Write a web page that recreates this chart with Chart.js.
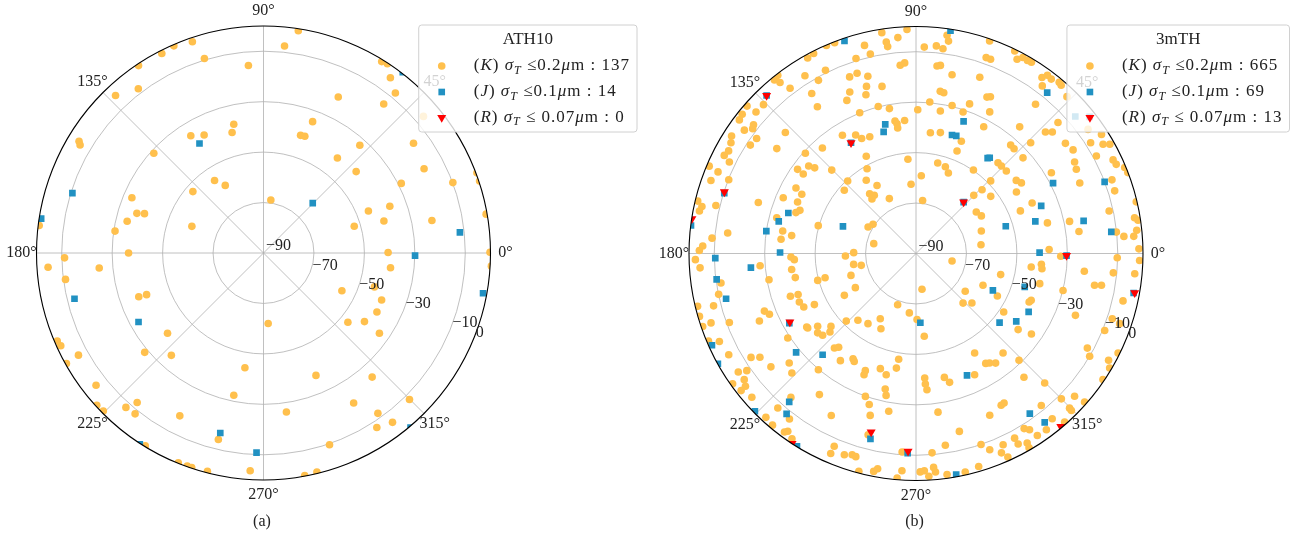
<!DOCTYPE html>
<html>
<head>
<meta charset="utf-8">
<script src="https://cdn.jsdelivr.net/npm/chart.js@4.4.0/dist/chart.umd.min.js"></script>
<style>
  html, body { margin: 0; padding: 0; background: #ffffff; }
  body { width: 1305px; height: 542px; position: relative; overflow: hidden; }
  canvas { position: absolute; top: 0; }
  #panelA { left: 0; }
  #panelB { left: 652px; }
</style>
</head>
<body>
<canvas id="panelA" width="652" height="542"></canvas>
<canvas id="panelB" width="653" height="542"></canvas>
<script>
// ---- axis definitions ----
const R_MIN = -90;
const R_MAX = 0;
const angleTicks = [0, 45, 90, 135, 180, 225, 270, 315];
const radialTicks = [-90, -70, -50, -30, -10, 0];
const gridRings = [-70, -50, -30, -10];
const radialLabelAngle = -22.5;

// ---- series definitions ----
const seriesCodes = ['K', 'J', 'R'];
const seriesLimits = ['0.2', '0.1', '0.07'];
const seriesColors = ['#FFC04D', '#2191C2', '#FF0000'];
const seriesStyles = ['circle', 'rect', 'triangle'];
const seriesRadius = [3.8, 4.7, 5.2];

const panelTitles = ['ATH10', '3mTH'];
const panelCaptions = ['(a)', '(b)'];
const athCounts = [137, 14, 0];
const mthCounts = [665, 69, 13];

// ---- ATH10 samples: [azimuth (deg), value] ----
const athK = [
  [108.6,-1.6],[113.4,-0.5],[117.0,-1.2],[106.9,-9.4],[94.6,-15.4],[123.7,-0.7],[127.3,-8.1],[133.2,-4.3],
  [103.0,-37.6],[104.6,-40.6],[121.8,-35.3],[116.7,-37.6],[148.8,-4.5],[149.5,-5.6],[137.7,-31.2],[124.0,-55.3],
  [119.5,-59.2],[139.0,-52.9],[157.2,-33.4],[162.6,-37.4],[161.7,-40.3],[166.9,-34.5],[171.6,-30.5],[159.6,-59.7],
  [173.0,-0.4],[180.0,-36.5],[181.4,-11.1],[183.8,-4.4],[185.2,-24.6],[187.6,-10.8],[199.3,-37.6],[199.6,-40.8],
  [219.9,-40.4],[203.1,-1.1],[204.6,-1.6],[219.9,-28.6],[228.0,-35.4],[208.9,-6.2],[209.3,-0.4],[260.8,-43.9],
  [218.3,-5.4],[258.2,-32.4],[229.8,-12.4],[228.3,-8.0],[222.4,-0.5],[224.6,-0.8],[231.4,-8.4],[242.8,-17.4],
  [256.4,-13.9],[238.5,-0.3],[247.9,-0.2],[250.3,-0.3],[251.5,-0.3],[255.6,-0.6],[266.5,-3.5],
  [81.1,-0.8],[84.2,-7.5],[58.3,-0.8],[56.8,-0.3],[54.1,-4.2],[50.5,-7.8],[64.4,-21.4],[51.1,-14.1],
  [69.5,-34.4],[72.5,-41.1],[70.5,-40.9],[48.2,-32.7],[36.2,-16.3],[52.1,-42.3],[41.3,-41.1],[27.7,-18.1],
  [26.8,-28.8],[20.4,-9.9],[82.1,-68.8],[20.3,-36.6],[21.8,-45.2],[14.9,-40.6],[10.9,-22.0],[16.4,-52.5],
  [0.2,-40.6],[0.2,-0.2],[353.4,-39.3],[334.3,-55.5],[343.0,-44.0],[338.3,-39.6],[332.5,-39.3],[320.6,-46.7],
  [325.8,-41.6],[325.3,-34.1],[273.8,-62.0],[293.2,-37.2],[311.2,-24.6],[314.9,-8.0],[301.0,-20.6],[278.2,-26.3],
  [305.5,-11.9],[307.3,-5.6],[303.0,-7.5],[289.0,-9.6],[280.5,-0.3],[283.7,-0.6],[18.4,0.3],[9.9,-0.4],
  [356.7,0.5],[20.6,0.4],[40.5,-6.6]
];
const athJ = [
  [120.3,-39.7],[162.6,-10.6],[171.2,-0.8],[193.6,-12.9],[208.9,-33.4],[256.5,-16.6],[268.0,-10.8],[237.1,0.3],
  [45.4,-62.2],[6.0,-11.7],[359.0,-29.9],[349.6,-1.5],[310.1,0.5],[52.4,0.5]
];
const athR = [];

// ---- 3mTH samples: [azimuth (deg), value] ----
const mthK = [
  [111.1,-0.4],[113.3,-0.2],[117.1,-0.9],[119.0,-1.4],[116.3,-9.0],[122.0,-6.9],[119.4,-11.2],[127.3,-7.6],
  [123.1,-14.3],[123.9,-19.9],[127.8,-0.6],[129.2,-1.2],[128.5,-3.4],[135.7,-5.5],[138.5,-5.3],[138.9,-1.1],
  [141.3,-1.7],[142.9,-2.2],[141.6,-7.8],[142.6,-8.5],[144.3,-6.2],[144.2,-12.1],[146.8,-11.5],[137.2,-19.4],
  [143.0,-20.9],[147.5,-3.3],[149.1,-4.5],[151.3,-5.3],[152.9,-4.6],[153.9,-7.6],[157.6,-5.1],[157.1,-1.0],
  [137.8,-30.8],[131.6,-34.1],[144.6,-32.4],[144.8,-35.3],[140.8,-35.1],[139.8,-37.4],[135.3,-43.0],
  [98.8,-1.4],[94.8,-4.1],[92.3,-1.1],[87.7,-8.1],[84.4,-7.3],[82.5,-8.1],[81.9,-2.6],[81.3,-4.8],
  [98.0,-5.3],[97.8,-7.2],[103.9,-5.0],[102.9,-8.9],[107.1,-9.1],[94.8,-15.1],[93.4,-14.3],[83.6,-15.2],
  [82.6,-14.8],[78.6,-17.7],[70.1,-15.7],[110.6,-15.2],[108.1,-14.8],[105.2,-17.2],[106.5,-20.9],[101.5,-22.4],
  [112.3,-20.8],[107.5,-24.0],[114.3,-23.4],[81.5,-25.0],[80.2,-25.3],[65.6,-21.9],[84.8,-29.7],[89.3,-33.0],
  [80.3,-32.7],[76.3,-29.6],[70.3,-27.0],[104.4,-29.8],[100.4,-31.6],[111.8,-29.9],[99.0,-36.8],[98.3,-38.0],
  [94.9,-37.1],[98.3,-39.7],[61.9,-33.0],[71.6,-30.9],[83.2,-41.8],[78.6,-41.1],[68.0,-42.0],[68.2,-46.2],
  [121.9,-34.8],[117.0,-37.3],[115.3,-39.6],[111.6,-40.2],[117.1,-46.7],[94.9,-52.5],[120.0,-51.2],[76.5,-53.1],
  [71.3,-53.7],[68.1,-55.6],[55.5,-49.8],[86.1,-59.1],[70.3,-7.5],
  [70.9,-0.8],[69.0,-7.5],[64.0,-0.7],[62.5,-3.2],[61.4,-1.5],[60.0,-1.6],[58.9,-1.4],[54.4,-4.2],
  [53.6,-2.2],[52.2,-2.5],[53.0,-6.8],[50.1,-1.5],[49.2,-1.9],[51.3,-14.2],[46.1,-3.7],[64.6,-21.2],
  [62.5,-26.7],[50.7,-25.1],[42.7,-13.4],[43.2,-19.6],[41.7,-17.6],[44.0,-26.8],[48.9,-32.9],[46.9,-33.1],
  [41.8,-33.1],[36.4,-16.4],[33.4,-15.4],[30.0,-17.4],[27.7,-18.2],[30.8,-27.5],[47.9,-41.5],[45.7,-41.5],
  [42.4,-41.5],[35.8,-5.9],[32.7,-2.6],[32.4,-8.0],[30.3,-4.1],[29.4,-1.8],[28.4,-8.7],[25.4,-3.5],
  [24.0,-3.1],[22.4,-0.5],[20.9,-0.1],
  [160.4,-3.7],[158.5,-10.2],[166.5,-1.0],[167.6,-3.1],[168.9,-2.5],[166.5,-8.4],[162.1,-24.3],[157.2,-32.9],
  [151.4,-35.8],[152.6,-39.0],[156.5,-38.8],[159.6,-40.9],[161.2,-39.7],[165.6,-33.0],[170.4,-36.4],[174.0,-36.2],
  [171.8,-40.2],[164.1,-49.7],[173.8,-14.9],[175.7,-8.9],[178.0,-5.4],[179.2,-4.1],[181.6,-2.5],[183.8,-4.2],
  [184.5,-28.0],[181.6,-40.4],[182.9,-41.7],[187.3,-40.3],[191.3,-41.2],[190.1,-30.8],[195.3,-49.6],[194.9,-52.7],
  [188.6,-11.8],[191.7,-10.1],[198.8,-37.4],[199.2,-40.5],[202.6,-39.9],[205.5,-40.7],[206.7,-44.9],[194.5,-7.1],
  [193.6,-0.9],[196.2,-0.6],[200.8,-25.7],[202.5,-27.1],[203.3,-22.4],[198.7,-4.2],[200.3,-11.1],[198.9,-0.6],
  [213.9,-37.8],[216.5,-41.5],[220.6,-45.6],
  [133.3,-50.5],[124.2,-54.9],[119.8,-58.9],[94.1,-62.5],[138.6,-52.1],[127.8,-60.0],[125.6,-61.6],[128.9,-62.2],
  [115.9,-65.8],[82.9,-68.8],[45.2,-57.5],[44.0,-53.6],[34.5,-61.0],[29.9,-60.1],[19.0,-62.6],[7.7,-64.0],
  [151.1,-68.3],[145.8,-69.4],[166.9,-72.8],[182.0,-62.0],[179.2,-65.3],[189.9,-64.9],[192.2,-67.8],[198.6,-62.8],
  [209.4,-62.4],[210.3,-57.1],[348.2,-75.4],[334.6,-60.6],[322.5,-65.4],[313.5,-62.9],[318.5,-60.4],[279.5,-75.6],
  [250.3,-68.4],[263.6,-66.3],[241.3,-60.5],[224.1,-51.5],[229.0,-54.9],[235.6,-56.3],[270.9,-63.8],
  [44.2,-48.7],[36.1,-40.8],[33.8,-39.7],[31.5,-43.3],[37.4,-52.7],[23.5,-39.8],[22.2,-45.3],[13.1,-36.5],
  [11.8,-27.8],[7.7,-24.8],[23.3,-19.3],[17.5,-7.4],[20.6,-7.0],[12.4,-11.6],[9.3,-2.2],[8.5,-1.0],
  [6.0,-2.0],[4.5,-3.4],[13.2,-0.3],[6.1,-10.1],[4.7,-7.3],[1.7,-37.2],[358.9,-32.6],[353.3,-44.0],
  [355.1,-40.1],[353.1,-39.7],[346.0,-55.4],[346.3,-39.5],[354.0,-22.9],[349.9,-18.1],[350.3,-15.4],[345.9,-29.9],
  [354.4,-11.4],[358.8,-10.2],[354.7,-2.9],[337.9,-40.7],[336.8,-41.2],[332.4,-53.6],[326.3,-48.2],[338.8,-22.2],
  [347.1,-5.8],[341.6,-8.0],[341.0,-4.6],[358.2,-1.3],[1.2,-1.6],
  [204.1,-4.6],[202.9,-0.7],[208.4,-5.6],[213.7,-5.3],[214.7,-8.4],[212.2,-12.7],[213.6,-15.7],[218.0,-17.0],
  [213.4,-29.1],[220.8,-23.6],[223.9,-21.7],[214.5,-37.9],[218.9,-39.9],[221.2,-40.8],[222.4,-43.8],[229.2,-40.5],
  [230.0,-29.8],[215.4,-0.8],[216.3,-5.5],[217.9,-4.3],[218.1,-1.9],[221.2,-3.5],[235.6,-22.2],[228.2,-7.8],
  [229.0,-14.4],[232.6,-7.4],[227.5,-1.9],[230.1,-1.3],[233.6,-2.1],[234.2,-3.1],[236.2,-1.6],[242.4,-17.5],
  [247.0,-7.0],[246.9,-3.8],
  [245.0,-57.1],[275.7,-57.0],[230.5,-41.8],[234.8,-38.0],[239.1,-41.4],[240.2,-40.7],[300.5,-44.2],[260.7,-47.5],
  [260.3,-43.9],[252.8,-42.2],[246.6,-39.4],[246.8,-37.7],[256.2,-40.5],[274.0,-40.5],[274.1,-38.1],[274.6,-35.8],
  [282.9,-39.6],[284.6,-37.2],[302.4,-38.4],[257.2,-34.9],[258.1,-32.5],[250.5,-29.9],[252.8,-27.3],[277.9,-26.5],
  [254.2,-23.3],[260.2,-26.5],[283.7,-17.4],[255.2,-15.7],[278.7,-13.1],[288.8,-10.0],[266.0,-11.1],[274.6,-10.7],
  [250.4,-5.3],[252.4,-6.3],[253.5,-6.0],[255.3,-0.7],[259.0,-2.0],[259.9,-3.3],[266.3,-3.7],[265.2,-0.7],
  [271.1,-3.4],[272.2,-3.8],[273.3,-1.5],[274.7,-4.9],[275.1,-3.0],[278.0,-1.5],[282.7,-1.2],[286.4,-2.0],
  [295.8,-36.6],
  [323.3,-39.5],[325.1,-34.2],[337.8,-9.2],[311.2,-37.6],[303.9,-37.7],[306.0,-36.3],[314.0,-31.2],[331.1,-12.4],
  [329.4,-10.0],[311.1,-24.9],[314.8,-17.6],[331.0,-2.7],[329.4,-0.8],[333.8,-0.7],[326.0,-0.6],[315.0,-8.5],
  [318.0,-5.4],[318.6,-0.9],[309.5,-11.9],[299.3,-21.0],[300.5,-21.2],[314.8,-3.6],[314.7,-2.4],[309.5,-5.1],
  [294.5,-19.5],[311.4,-0.9],[303.7,-3.3],[301.7,-8.4],[302.8,-6.9],[306.5,-3.1],[294.5,-6.7],[293.2,-4.0],
  [298.1,-7.0],[298.2,-4.3],[300.4,-2.9],[300.2,-0.9],[290.6,-6.9],[294.3,-1.5]
];
const mthJ = [
  [133.4,-3.8],[81.2,-0.6],[108.6,-1.1],[103.4,-37.4],[104.9,-40.1],[70.2,-34.3],[73.1,-40.9],[71.1,-40.7],
  [53.1,-42.7],[120.4,-39.1],[50.8,-7.7],[52.4,-42.1],[40.7,-6.7],[38.2,-2.4],[162.4,-36.9],[166.8,-34.1],
  [171.5,-30.0],[179.6,-36.1],[181.3,-10.4],[184.9,-24.3],[187.4,-10.3],[193.4,-12.6],[208.8,-32.7],[172.9,-0.1],
  [162.5,-10.3],[159.6,-59.1],[273.6,-62.5],[47.2,-62.2],[27.2,-28.9],[20.8,-10.0],[20.8,-36.9],[15.1,-41.0],
  [11.0,-22.3],[16.9,-52.8],[6.3,-12.1],[0.4,-41.0],[334.4,-56.2],[342.9,-44.9],[332.6,-39.7],[320.4,-47.0],
  [325.9,-42.0],[349.7,-2.3],[359.2,-30.3],[204.2,-1.3],[209.1,-0.1],[219.5,-28.4],[227.3,-35.4],[229.5,-12.6],
  [231.1,-8.3],[224.4,-0.6],[238.3,-0.2],[292.7,-37.6],[256.2,-14.3],[267.6,-10.8],[280.3,-0.9],[305.4,-12.1],
  [307.3,-5.8]
];
const mthR = [
  [133.4,-3.8],[120.4,-39.1],[162.2,-10.2],[171.2,-0.1],[208.5,-33.1],[47.2,-62.2],[359.2,-30.3],[349.8,-1.9],
  [236.9,0.0],[255.9,-17.0],[267.7,-11.5],[309.9,-0.5]
];

// ---- drawing ----
const FONT = "'Liberation Serif', 'DejaVu Serif', serif";
const FONT_SIZE = 16;
const LEGEND_SIZE = 17;
const LEGEND_SPACING = 1;
const GRID_COLOR = '#b0b0b0';
const DEG = Math.PI / 180;

function toXY(p) {
  const rho = p[1] - R_MIN;
  return { x: rho * Math.cos(p[0] * DEG), y: rho * Math.sin(p[0] * DEG) };
}

function geometry(chart) {
  const xs = chart.scales.x, ys = chart.scales.y;
  const cx = xs.getPixelForValue(0);
  const cy = ys.getPixelForValue(0);
  const rad = v => xs.getPixelForValue(v - R_MIN) - cx;
  const pt = (a, v) => ({ x: cx + rad(v) * Math.cos(a * DEG), y: cy - rad(v) * Math.sin(a * DEG) });
  return { cx, cy, rad, pt };
}

function fmtTick(v) {
  return v < 0 ? '\u2212' + Math.abs(v) : String(v);
}

function legendParts(i, count) {
  const gap = i === 2 ? ' ' : '';
  return [
    ['(', 'n'], [seriesCodes[i], 'i'], [') ', 'n'], ['\u03C3', 'i'], ['T', 'sub'],
    [' \u2264' + gap, 'n'], [seriesLimits[i], 'n'], ['\u03BC', 'i'], ['m', 'n'], [' : ' + count, 'n']
  ];
}

function partFont(style) {
  if (style === 'i') return `italic ${LEGEND_SIZE}px ${FONT}`;
  if (style === 'sub') return `italic ${Math.round(LEGEND_SIZE * 0.7)}px ${FONT}`;
  return `${LEGEND_SIZE}px ${FONT}`;
}

// rich text run: each character advanced with a little extra tracking
function runParts(ctx, x, y, parts, draw) {
  let px = x;
  for (const [t, s] of parts) {
    ctx.font = partFont(s);
    for (const ch of t) {
      if (draw) ctx.fillText(ch, px, s === 'sub' ? y + LEGEND_SIZE * 0.28 : y);
      px += ctx.measureText(ch).width + LEGEND_SPACING;
    }
  }
  return px - x - LEGEND_SPACING;
}

function drawMarker(ctx, i, x, y) {
  const opts = { pointStyle: seriesStyles[i], radius: seriesRadius[i], rotation: i === 2 ? 180 : 0, borderWidth: 0 };
  ctx.save();
  ctx.fillStyle = seriesColors[i];
  ctx.strokeStyle = seriesColors[i];
  if (Chart.helpers && Chart.helpers.drawPoint) {
    Chart.helpers.drawPoint(ctx, opts, x, y);
  } else {
    ctx.beginPath(); ctx.arc(x, y, seriesRadius[i], 0, 2 * Math.PI); ctx.fill();
  }
  ctx.restore();
}

const polarFrame = {
  id: 'polarFrame',
  beforeDatasetsDraw(chart) {
    const g = geometry(chart);
    const ctx = chart.ctx;
    ctx.save();
    ctx.strokeStyle = GRID_COLOR;
    ctx.lineWidth = 0.8;
    gridRings.forEach(v => {
      ctx.beginPath(); ctx.arc(g.cx, g.cy, g.rad(v), 0, 2 * Math.PI); ctx.stroke();
    });
    angleTicks.forEach(a => {
      const p = g.pt(a, R_MAX);
      ctx.beginPath(); ctx.moveTo(g.cx, g.cy); ctx.lineTo(p.x, p.y); ctx.stroke();
    });
    ctx.restore();
    // markers are clipped to the plotting disc
    ctx.save();
    ctx.beginPath();
    ctx.arc(g.cx, g.cy, g.rad(R_MAX), 0, 2 * Math.PI);
    ctx.clip();
  },
  afterDatasetsDraw(chart, args, opts) {
    const ctx = chart.ctx;
    ctx.restore();
    const g = geometry(chart);
    const outer = g.rad(R_MAX);

    // outer spine
    ctx.save();
    ctx.strokeStyle = '#000000';
    ctx.lineWidth = 1.1;
    ctx.beginPath(); ctx.arc(g.cx, g.cy, outer, 0, 2 * Math.PI); ctx.stroke();
    ctx.restore();

    ctx.save();
    ctx.fillStyle = '#222222';
    ctx.font = `${FONT_SIZE}px ${FONT}`;
    // angular tick labels
    ctx.textAlign = 'center';
    ctx.textBaseline = 'middle';
    angleTicks.forEach(a => {
      const x = g.cx + (outer + 15) * Math.cos(a * DEG);
      const y = g.cy - (outer + 15) * Math.sin(a * DEG);
      ctx.fillText(a + '\u00B0', x, y);
    });
    // radial tick labels
    ctx.textAlign = 'left';
    radialTicks.forEach(v => {
      const p = g.pt(radialLabelAngle, v);
      ctx.fillText(fmtTick(v), p.x + 2.5, p.y - 7);
    });
    ctx.restore();

    // legend
    const counts = opts.counts;
    ctx.save();
    ctx.textBaseline = 'middle';
    ctx.textAlign = 'left';
    const rows = seriesCodes.map((c, i) => legendParts(i, counts[i]));
    const textW = Math.max(...rows.map(r => runParts(ctx, 0, 0, r, false)));
    const boxRight = g.cx + 373.5;
    const boxW = 55 + textW + 8;
    const boxL = boxRight - boxW;
    const boxT = 25, boxH = 107;
    ctx.beginPath();
    if (ctx.roundRect) ctx.roundRect(boxL, boxT, boxW, boxH, 3); else ctx.rect(boxL, boxT, boxW, boxH);
    ctx.fillStyle = 'rgba(255,255,255,0.8)';
    ctx.fill();
    ctx.strokeStyle = '#d0d0d0';
    ctx.lineWidth = 1;
    ctx.stroke();
    ctx.fillStyle = '#222222';
    ctx.textAlign = 'center';
    ctx.font = `${LEGEND_SIZE}px ${FONT}`;
    ctx.fillText(opts.title, boxL + boxW / 2, boxT + 14.5);
    ctx.textAlign = 'left';
    const rowY = [boxT + 41, boxT + 67, boxT + 92.5];
    rows.forEach((parts, i) => {
      drawMarker(ctx, i, boxL + 23, rowY[i]);
      ctx.fillStyle = '#222222';
      runParts(ctx, boxL + 55, rowY[i], parts, true);
    });
    ctx.restore();

    // panel caption
    ctx.save();
    ctx.fillStyle = '#222222';
    ctx.font = `${FONT_SIZE}px ${FONT}`;
    ctx.textAlign = 'center';
    ctx.textBaseline = 'middle';
    ctx.fillText(opts.caption, g.cx - 1.5, 522);
    ctx.restore();
  }
};

function makeDatasets(groups) {
  return groups.map((pts, i) => ({
    label: seriesCodes[i],
    data: pts.map(toXY),
    pointStyle: seriesStyles[i],
    pointRadius: seriesRadius[i],
    pointHoverRadius: seriesRadius[i],
    pointRotation: i === 2 ? 180 : 0,
    pointBackgroundColor: seriesColors[i],
    pointBorderColor: seriesColors[i],
    pointBorderWidth: 0,
    backgroundColor: seriesColors[i],
    borderColor: seriesColors[i],
    showLine: false,
    clip: false,
    order: 2 - i
  }));
}

function makePanel(canvasId, groups, title, counts, caption, padding) {
  return new Chart(document.getElementById(canvasId), {
    type: 'scatter',
    data: { datasets: makeDatasets(groups) },
    options: {
      responsive: false,
      maintainAspectRatio: false,
      animation: false,
      devicePixelRatio: 1,
      events: [],
      layout: { padding },
      scales: {
        x: { type: 'linear', min: -(R_MAX - R_MIN), max: R_MAX - R_MIN, display: false },
        y: { type: 'linear', min: -(R_MAX - R_MIN), max: R_MAX - R_MIN, display: false }
      },
      plugins: {
        legend: { display: false },
        tooltip: { enabled: false },
        polarFrame: { title, counts, caption }
      }
    },
    plugins: [polarFrame]
  });
}

makePanel('panelA', [athK, athJ, athR], panelTitles[0], athCounts, panelCaptions[0],
  { left: 36.5, right: 161.5, top: 26, bottom: 62 });
makePanel('panelB', [mthK, mthJ, mthR], panelTitles[1], mthCounts, panelCaptions[1],
  { left: 37, right: 162, top: 26.5, bottom: 61.5 });
</script>
</body>
</html>
